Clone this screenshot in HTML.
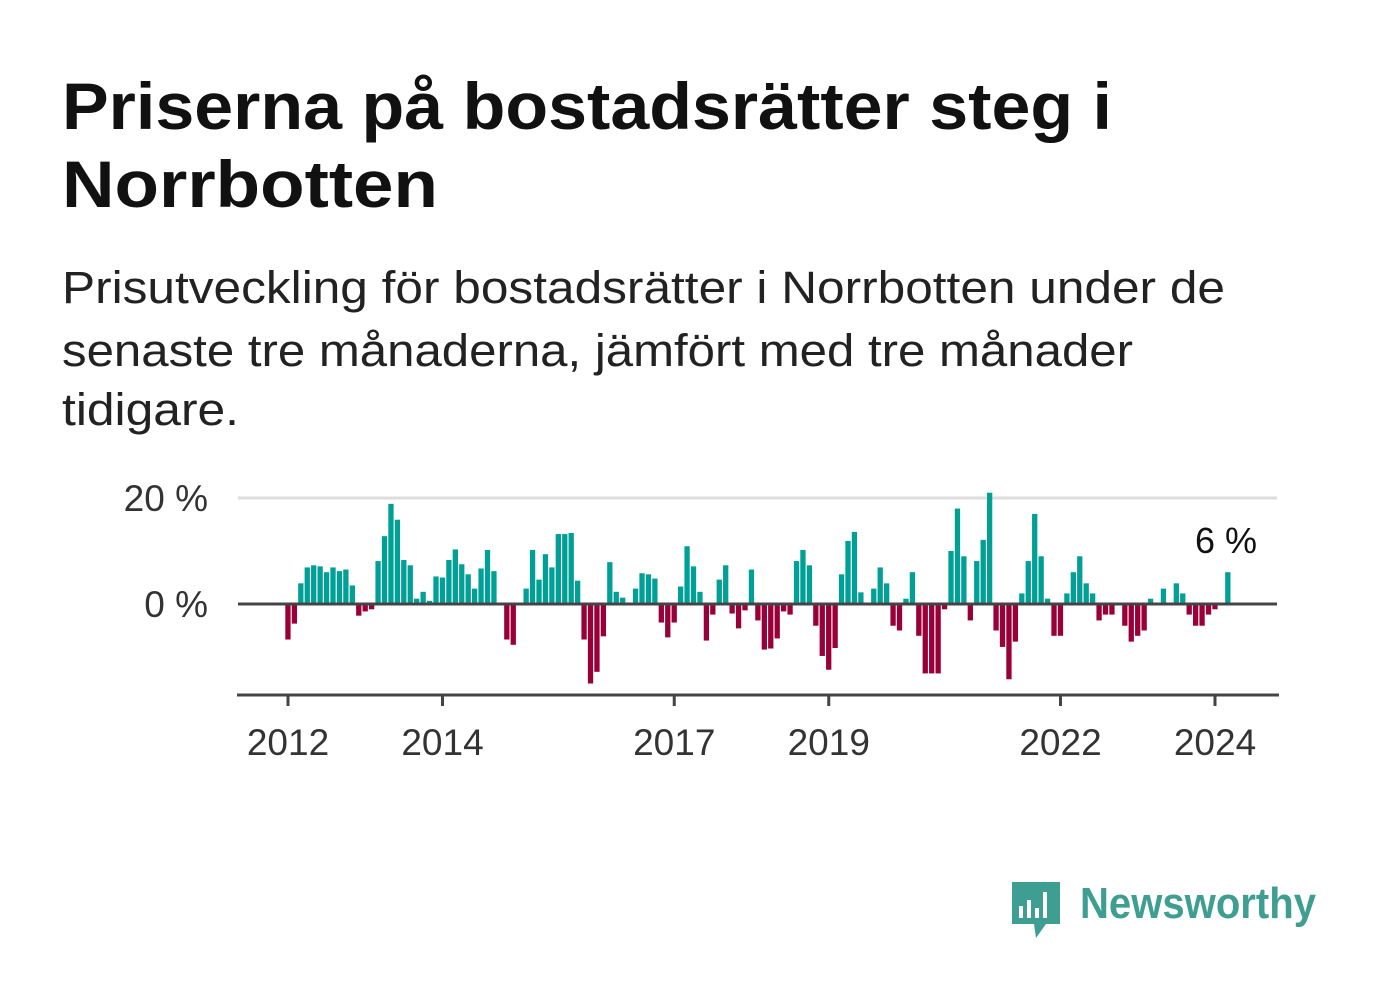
<!DOCTYPE html>
<html><head><meta charset="utf-8"><style>
html,body{margin:0;padding:0;background:#fff;}
svg{display:block;font-family:"Liberation Sans",sans-serif;}
</style></head><body>
<svg id="chart" width="1382" height="999" viewBox="0 0 1382 999">
<text x="62" y="129" font-size="66" font-weight="bold" fill="#111" textLength="1050" lengthAdjust="spacingAndGlyphs">Priserna på bostadsrätter steg i</text>
<text x="62" y="207" font-size="66" font-weight="bold" fill="#111" textLength="376" lengthAdjust="spacingAndGlyphs">Norrbotten</text>
<text x="62" y="303" font-size="45" fill="#222" textLength="1163" lengthAdjust="spacingAndGlyphs">Prisutveckling för bostadsrätter i Norrbotten under de</text>
<text x="62" y="366" font-size="45" fill="#222" textLength="1071" lengthAdjust="spacingAndGlyphs">senaste tre månaderna, jämfört med tre månader</text>
<text x="62" y="425" font-size="45" fill="#222" textLength="177" lengthAdjust="spacingAndGlyphs">tidigare.</text>
<g id="grid"></g>
<g id="bars"></g>
<g id="axes"></g>
<text id="lastLabel" x="1257" y="553" font-size="36" fill="#111" text-anchor="end">6 %</text>
<g>
<path d="M1012 882 h48 v42 h-14 l-10 14 l-2 -14 h-22 z" fill="#3f9e92"/>
<rect x="1019" y="906" width="4" height="12" fill="#fff"/>
<rect x="1027" y="900" width="4" height="18" fill="#fff"/>
<rect x="1035" y="908" width="4" height="10" fill="#fff"/>
<rect x="1043" y="892" width="4" height="26" fill="#fff"/>
<text x="1080" y="918" font-size="44" font-weight="bold" fill="#3f9e92" textLength="236" lengthAdjust="spacingAndGlyphs">Newsworthy</text>
</g>
</svg>
<script>
const values = [-6.7,-3.7,3.9,6.9,7.3,7.1,6.0,6.9,6.2,6.5,3.5,-2.2,-1.4,-1.0,8.1,12.8,18.9,15.9,8.3,7.3,1.0,2.3,0.6,5.2,5.0,8.3,10.3,7.5,5.6,2.9,6.7,10.2,6.2,0,-6.7,-7.7,0,2.9,10.2,4.6,9.4,6.9,13.2,13.2,13.4,4.4,-6.7,-15,-12.8,-6.1,
7.9,2.3,1.2,0,2.9,5.8,5.6,4.8,-3.5,-6.3,-3.5,3.3,10.9,7.1,2.3,-6.9,-2.0,4.6,7.3,-1.8,-4.6,-1.2,6.5,-3.1,-8.6,-8.4,-6.5,-1.4,-2.0,8.1,10.2,7.3,-4.1,-9.8,-12.4,-8.3,5.6,11.9,13.6,2.2,0,2.9,6.9,3.9,-4.1,-5.0,1.0,6.0,-6.0,-13.1,-13.1,-13.1,
-1.0,10.0,18.0,9.0,-3.1,8.1,12.1,21.0,-5.0,-8.1,-14.2,-7.1,2.0,8.1,17.0,9.0,1.0,-6.0,-6.0,2.0,6.0,9.0,3.9,2.0,-3.1,-2.0,-2.0,0,-4.1,-7.1,-6.0,-5.0,1.0,0,2.9,0,3.9,2.0,-2.0,-4.1,-4.1,-2.0,-1.0,0,6.0];
const startYear = 2012;
const tickYears = [2012,2014,2017,2019,2022,2024];
const yTicks = [0,20];
const NS="http://www.w3.org/2000/svg";
const x0=288, monthW=6.4375, y0=604, pxPer=5.3;
const xScale = i => x0 + i*monthW;
const yScale = v => y0 - v*pxPer;
function mk(tag, attrs, parent){const e=document.createElementNS(NS,tag);for(const k in attrs)e.setAttribute(k,attrs[k]);parent.appendChild(e);return e;}
const grid=document.getElementById('grid'), bars=document.getElementById('bars'), axes=document.getElementById('axes');
yTicks.forEach(t=>{
  const y=yScale(t);
  if(t!==0){const l=mk('line',{x1:238,x2:1277,y1:y,y2:y,stroke:'#ddd','stroke-width':3},grid);
  
  }
  const tx=mk('text',{x:208,y:y+13,'font-size':37,fill:'#333','text-anchor':'end'},grid);
  
  
  tx.textContent=t+' %';
});
values.forEach((v,i)=>{
  const x=xScale(i)-2.7, y=Math.min(yScale(v),y0), h=Math.abs(yScale(v)-y0);
  if(h<=0)return;
  const r=mk('rect',{x:x,y:y,width:5.3,height:h,fill:v>=0?'#00a097':'#990038'},bars);
  
  
});
const zl=mk('line',{x1:238,x2:1277,y1:y0,y2:y0,stroke:'#444','stroke-width':3},axes);


const xa=mk('line',{x1:237,x2:1279,y1:695,y2:695,stroke:'#444','stroke-width':3},axes);


tickYears.forEach(yr=>{
  const x=xScale((yr-startYear)*12);
  const t=mk('line',{x1:x,x2:x,y1:695,y2:706,stroke:'#444','stroke-width':3},axes);
  
  
  const tx=mk('text',{x:x,y:755,'font-size':37,fill:'#333','text-anchor':'middle'},axes);
  
  
  tx.textContent=yr;
});
</script>
</body></html>
